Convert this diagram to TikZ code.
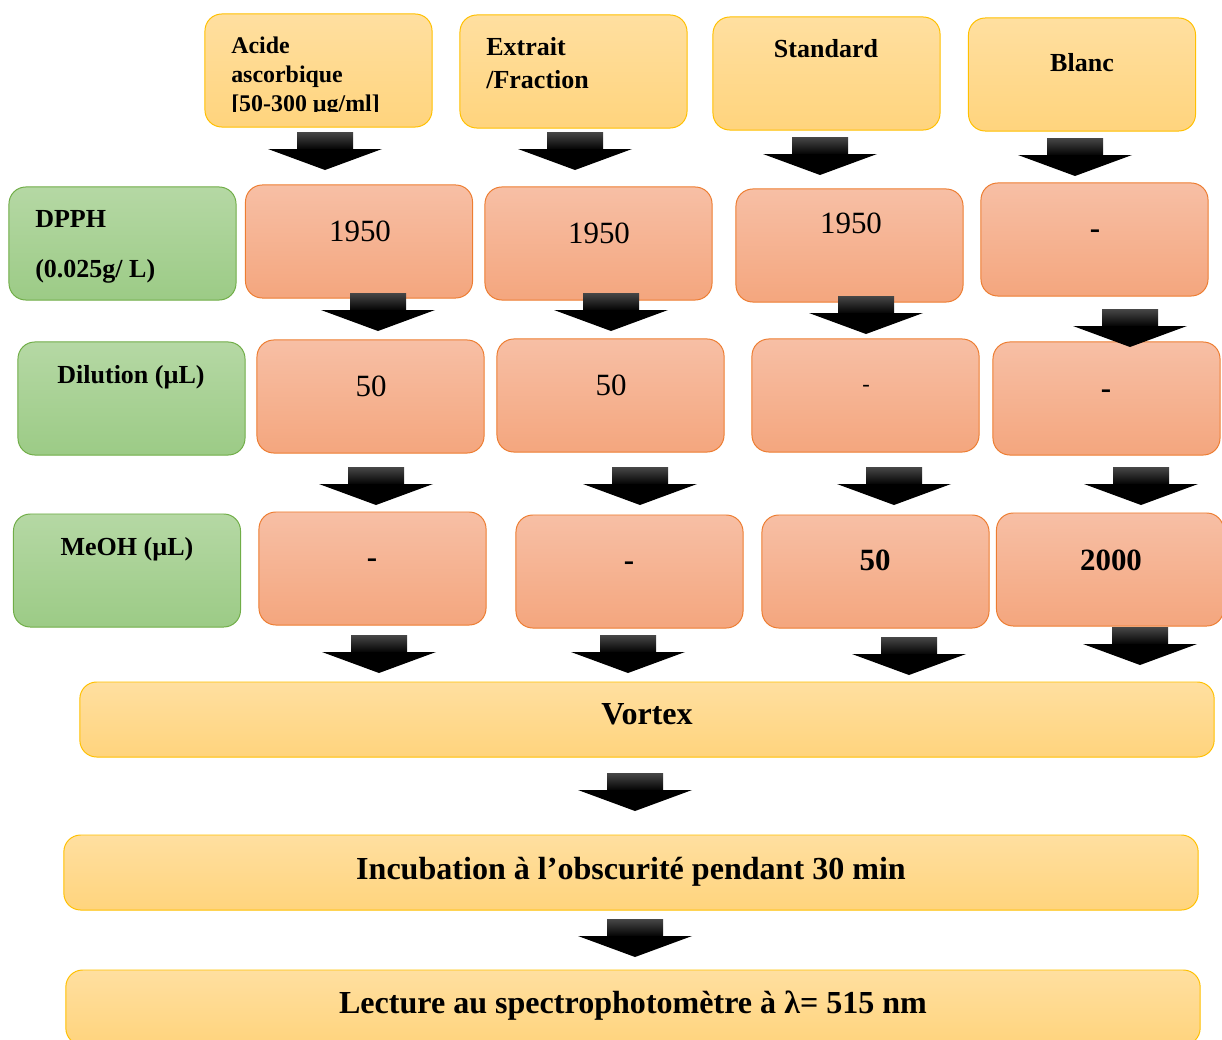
\documentclass[tikz,border=0pt]{standalone}
\usepackage{fontspec}
\setmainfont{Liberation Serif}
\usetikzlibrary{calc}
\definecolor{yelfill}{HTML}{FFDFA0}
\definecolor{yelfillb}{HTML}{FFD47D}
\definecolor{yelborder}{HTML}{FFC000}
\definecolor{salfill}{HTML}{F7BFA5}
\definecolor{salfillb}{HTML}{F4A67E}
\definecolor{salborder}{HTML}{ED7D31}
\definecolor{grnfill}{HTML}{B5D8A4}
\definecolor{grnfillb}{HTML}{9CCB86}
\definecolor{grnborder}{HTML}{70AD47}
\tikzset{
  downarrow/.pic={
    \shade[top color=black!72, bottom color=black] (-28,0) rectangle (28,18);
    \fill[black] (-57,17) -- (57,17) -- (0,38) -- cycle;
  }
}
\begin{document}
\begin{tikzpicture}[x=0.025cm, y=-0.025cm,
    box/.style={rounded corners=0.42cm, line width=0.7pt, inner sep=0pt,
      outer sep=0pt, minimum width=5.675cm, minimum height=2.825cm},
    yelbox/.style={box, draw=yelborder, top color=yelfill, bottom color=yelfillb},
    salbox/.style={box, draw=salborder, top color=salfill, bottom color=salfillb},
    grnbox/.style={box, draw=grnborder, top color=grnfill, bottom color=grnfillb},
    widebox/.style={yelbox, minimum width=28.35cm, minimum height=1.875cm},
    lbl/.style={inner sep=0pt, font=\fontsize{18.5}{23}\selectfont\bfseries},
    val/.style={inner sep=0pt, anchor=base, font=\fontsize{22}{26}\selectfont},
    bval/.style={val, font=\fontsize{22}{26}\selectfont\bfseries},
    stepval/.style={val, font=\fontsize{22.8}{27}\selectfont\bfseries}]
  \useasboundingbox (0,0) rectangle (1222,1039);
  \clip (0,0) rectangle (1222,1039);

  % samples
  \node[yelbox] (acide) at (318.5,70.5) {};
  \node[yelbox] (extrait) at (573.5,71.5) {};
  \node[yelbox] (standard) at (826.5,73.5) {};
  \node[yelbox] (blanc) at (1082,74.5) {};
  \begin{scope}
    \clip (205,14) rectangle (432,111);
    \node[lbl, font=\fontsize{17}{20.8}\selectfont\bfseries, align=left,
      anchor=north west] (acidetxt) at (231,36.5)
      {Acide\\ascorbique\\{[}50-300 µg/ml{]}};
  \end{scope}
  \node[lbl, align=left, anchor=north west, font=\fontsize{18.5}{23.4}\selectfont\bfseries]
    (extraittxt) at (486,37.5) {Extrait\\/Fraction};
  \node[lbl, anchor=base] (standardtxt) at (826,57) {Standard};
  \node[lbl, anchor=base] (blanctxt) at (1082,71) {Blanc};

  % DPPH
  \node[grnbox] (dpph) at (122.5,243.5) {};
  \node[lbl, anchor=base west] (dpphtxt) at (35,227) {DPPH};
  \node[lbl, anchor=base west] (dpphconc) at (35,277.5) {(0.025g/ L)};
  \node[salbox] (dacide) at (359,241.5) {};
  \node[salbox] (dextrait) at (598.5,243.5) {};
  \node[salbox] (dstandard) at (849.5,245.5) {};
  \node[salbox] (dblanc) at (1094.5,239.5) {};
  \node[val] (dacidetxt) at (360,241.5) {1950};
  \node[val] (dextraittxt) at (599,243.5) {1950};
  \node[val] (dstandardtxt) at (851,233.5) {1950};
  \node[bval] (dblanctxt) at (1095,238) {-};

  % dilution
  \node[grnbox] (dilution) at (131.5,398.5) {};
  \node[lbl, anchor=base] (dilutiontxt) at (131,383.5) {Dilution (µL)};
  \node[salbox] (lacide) at (370.5,396.5) {};
  \node[salbox] (lextrait) at (610.5,395.5) {};
  \node[salbox] (lstandard) at (865.5,395.5) {};
  \node[salbox] (lblanc) at (1106.5,398.5) {};
  \node[val] (lacidetxt) at (371,396.5) {50};
  \node[val] (lextraittxt) at (611,395.5) {50};
  \node[val, font=\fontsize{16}{20}\selectfont] (lstandardtxt) at (866,391.5) {-};
  \node[bval] (lblanctxt) at (1106,398) {-};

  % MeOH
  \node[grnbox] (meoh) at (127,570.5) {};
  \node[lbl, anchor=base] (meohtxt) at (127,555.5) {MeOH (µL)};
  \node[salbox] (macide) at (372.5,568.5) {};
  \node[salbox] (mextrait) at (629.5,571.5) {};
  \node[salbox] (mstandard) at (875.5,571.5) {};
  \node[salbox] (mblanc) at (1110,569.5) {};
  \node[bval] (macidetxt) at (372,567) {-};
  \node[bval] (mextraittxt) at (629,570) {-};
  \node[bval] (mstandardtxt) at (875,570.5) {50};
  \node[bval] (mblanctxt) at (1111,570.5) {2000};

  % steps
  \node[widebox] (vortex) at (647,719.5) {};
  \node[stepval] (vortextxt) at (647,724.5) {Vortex};
  \node[widebox] (incubation) at (631,872.5) {};
  \node[stepval] (incubationtxt) at (631,879.5) {Incubation à l’obscurité pendant 30 min};
  \node[widebox] (lecture) at (633,1007.5) {};
  \node[stepval] (lecturetxt) at (633,1013) {Lecture au spectrophotomètre à λ= 515 nm};

  % arrows
  \foreach \ax/\ay in {325/132, 575/132, 820/137, 1075/138,
      378/293, 611/293, 866/296, 1130/309,
      376/467, 640/467, 894/467, 1141/467,
      379/635, 628/635, 909/637, 1140/627,
      635/773, 635/919}
    \pic at (\ax,\ay) {downarrow};
\end{tikzpicture}
\end{document}
